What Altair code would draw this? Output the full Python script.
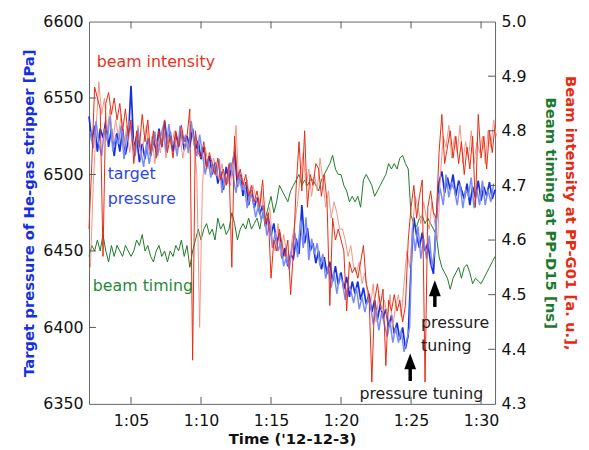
import altair as alt
import pandas as pd

# ---- data (minutes after 1:00, 0.2 min sampling) ----
minutes = [round(2.0 + 0.2 * i, 1) for i in range(146)]
minutes_mid = [round(2.1 + 0.2 * i, 1) for i in range(145)]

blue_pa = [
    6538, 6522, 6532, 6515, 6530,
    6524, 6535, 6518, 6530, 6512,
    6527, 6515, 6530, 6513, 6522,
    6558, 6516, 6525, 6508, 6520,
    6510, 6524, 6512, 6522, 6516,
    6530, 6518, 6535, 6520, 6528,
    6515, 6527, 6518, 6528, 6516,
    6525, 6518, 6530, 6516, 6522,
    6510, 6518, 6505, 6512, 6500,
    6508, 6494, 6502, 6490, 6505,
    6496, 6505, 6515, 6492, 6500,
    6486, 6495, 6480, 6490, 6478,
    6485, 6474, 6480, 6466, 6472,
    6460, 6468, 6455, 6462, 6445,
    6452, 6440, 6448, 6445, 6458,
    6448, 6480, 6455, 6465, 6450,
    6455, 6442, 6450, 6438, 6446,
    6435, 6443, 6430, 6440, 6428,
    6436, 6425, 6433, 6420, 6430,
    6422, 6430, 6418, 6426, 6415,
    6422, 6410, 6418, 6405, 6415,
    6406, 6412, 6400, 6408, 6396,
    6403, 6392, 6400, 6386, 6395,
    6440, 6472, 6460, 6452, 6462,
    6450, 6455, 6442, 6435, 6470,
    6495, 6502, 6488, 6498, 6490,
    6500, 6486, 6496, 6490, 6484,
    6494, 6480, 6492, 6485, 6496,
    6483, 6492, 6486, 6495, 6484,
    6490,
]

# lighter companion trace of the pressure (read between the dark samples)
blue_pa_light = [
    6528, 6517, 6535, 6520, 6512,
    6530, 6522, 6538, 6515, 6525,
    6520, 6532, 6510, 6526, 6535,
    6522, 6512, 6530, 6515, 6505,
    6520, 6507, 6518, 6528, 6512,
    6524, 6532, 6515, 6533, 6520,
    6522, 6512, 6532, 6520, 6526,
    6514, 6535, 6520, 6512, 6526,
    6514, 6500, 6510, 6498, 6506,
    6499, 6510, 6488, 6500, 6494,
    6508, 6498, 6488, 6502, 6490,
    6492, 6478, 6488, 6484, 6472,
    6480, 6470, 6476, 6460, 6468,
    6452, 6462, 6450, 6456, 6440,
    6446, 6438, 6452, 6462, 6446,
    6470, 6452, 6472, 6444, 6458,
    6448, 6455, 6440, 6448, 6432,
    6440, 6426, 6436, 6422, 6434,
    6430, 6418, 6428, 6424, 6416,
    6426, 6412, 6420, 6410, 6418,
    6415, 6402, 6412, 6398, 6410,
    6402, 6394, 6404, 6390, 6400,
    6390, 6398, 6384, 6392, 6400,
    6465, 6450, 6466, 6445, 6458,
    6445, 6460, 6440, 6450, 6485,
    6490, 6480, 6500, 6485, 6494,
    6490, 6480, 6494, 6478, 6490,
    6486, 6498, 6478, 6490, 6480,
    6496, 6480, 6490, 6482, 6494,
]

red_dark = [
    4.62, 4.74, 4.88, 4.86, 4.84,
    4.57, 4.85, 4.87, 4.83, 4.86,
    4.82, 4.85, 4.80, 4.84, 4.79,
    4.82, 4.74, 4.80, 4.77, 4.83,
    4.78, 4.82, 4.76, 4.80, 4.75,
    4.80, 4.77, 4.82, 4.76, 4.79,
    4.75, 4.80, 4.77, 4.81, 4.78,
    4.79, 4.84, 4.38, 4.80, 4.76,
    4.75, 4.78, 4.73, 4.76, 4.74,
    4.72, 4.75, 4.71, 4.73, 4.70,
    4.74, 4.55, 4.79, 4.71, 4.73,
    4.70, 4.72, 4.68, 4.70, 4.67,
    4.69, 4.66, 4.71, 4.63, 4.65,
    4.53, 4.60, 4.58, 4.62, 4.59,
    4.57, 4.60, 4.50, 4.58, 4.70,
    4.78, 4.69, 4.80, 4.66, 4.72,
    4.70, 4.74, 4.73, 4.68, 4.72,
    4.67, 4.48, 4.64, 4.60, 4.62,
    4.60, 4.58, 4.47, 4.56, 4.54,
    4.55, 4.53, 4.56, 4.59, 4.52,
    4.50, 4.34, 4.49, 4.52, 4.48,
    4.51, 4.37, 4.49, 4.47, 4.50,
    4.47, 4.49, 4.45, 4.48, 4.60,
    4.66, 4.70, 4.64, 4.68, 4.71,
    4.34, 4.66, 4.69, 4.65, 4.64,
    4.76, 4.83, 4.74, 4.77, 4.80,
    4.75, 4.79, 4.74, 4.78, 4.72,
    4.77, 4.73, 4.79, 4.66, 4.83,
    4.75, 4.79, 4.73, 4.80, 4.76,
    4.81,
]

red_light = [
    4.55, 4.70, 4.80, 4.89, 4.83,
    4.86, 4.80, 4.84, 4.78, 4.82,
    4.79, 4.83, 4.77, 4.81, 4.76,
    4.79, 4.76, 4.81, 4.75, 4.78,
    4.81, 4.76, 4.79, 4.74, 4.78,
    4.76, 4.80, 4.75, 4.79, 4.77,
    4.80, 4.76, 4.79, 4.75, 4.78,
    4.76, 4.81, 4.78, 4.72, 4.44,
    4.70, 4.77, 4.74, 4.72, 4.75,
    4.73, 4.71, 4.74, 4.70, 4.72,
    4.70, 4.75, 4.81, 4.70, 4.72,
    4.69, 4.71, 4.67, 4.70, 4.68,
    4.66, 4.69, 4.64, 4.62, 4.66,
    4.60, 4.58, 4.63, 4.57, 4.61,
    4.58, 4.55, 4.60, 4.63, 4.67,
    4.72, 4.76, 4.70, 4.73, 4.68,
    4.72, 4.69, 4.75, 4.71, 4.66,
    4.69, 4.64, 4.67, 4.65, 4.62,
    4.62, 4.60, 4.57, 4.59, 4.55,
    4.54, 4.56, 4.52, 4.54, 4.50,
    4.48, 4.52, 4.45, 4.50, 4.47,
    4.49, 4.46, 4.50, 4.44, 4.48,
    4.50, 4.46, 4.52, 4.58, 4.55,
    4.62, 4.68, 4.66, 4.63, 4.67,
    4.64, 4.62, 4.67, 4.63, 4.60,
    4.72, 4.79, 4.77, 4.81, 4.75,
    4.79, 4.76, 4.81, 4.74, 4.78,
    4.75, 4.80, 4.74, 4.78, 4.76,
    4.79, 4.74, 4.80, 4.77, 4.82,
    4.79,
]

green_ns = [
    4.57, 4.59, 4.58, 4.60, 4.58,
    4.61, 4.58, 4.56, 4.59, 4.57,
    4.59, 4.58, 4.57, 4.59, 4.58,
    4.57, 4.58, 4.60, 4.59, 4.61,
    4.58, 4.59, 4.57, 4.56, 4.58,
    4.59, 4.57, 4.58, 4.56, 4.58,
    4.57, 4.59, 4.58, 4.60, 4.57,
    4.59, 4.55, 4.58, 4.60, 4.62,
    4.60, 4.62, 4.63, 4.61, 4.62,
    4.60, 4.64, 4.62, 4.63, 4.61,
    4.62, 4.65, 4.63, 4.60, 4.62,
    4.63, 4.62, 4.64, 4.62, 4.63,
    4.64, 4.62, 4.65, 4.64, 4.66,
    4.68, 4.65, 4.67, 4.70, 4.69,
    4.68, 4.67, 4.69, 4.70, 4.71,
    4.72, 4.70, 4.71, 4.70, 4.71,
    4.71, 4.70, 4.69, 4.71, 4.72,
    4.73, 4.74, 4.755, 4.73, 4.72,
    4.72, 4.70, 4.69, 4.67, 4.68,
    4.67, 4.68, 4.66, 4.71, 4.72,
    4.71, 4.70, 4.68, 4.69, 4.70,
    4.71, 4.72, 4.74, 4.73, 4.74,
    4.73, 4.75, 4.755, 4.74, 4.73,
    4.645, 4.63, 4.625, 4.64, 4.645,
    4.63, 4.64, 4.63, 4.62, 4.61,
    4.57, 4.55, 4.54, 4.53, 4.51,
    4.53, 4.54, 4.55, 4.53, 4.55,
    4.555, 4.54, 4.52, 4.53, 4.525,
    4.52, 4.53, 4.54, 4.55, 4.56,
    4.57,
]

x_tick_values = [5, 10, 15, 20, 25, 30]
pa_tick_values = [6350, 6400, 6450, 6500, 6550, 6600]
pa_inner_ticks = [6400, 6450, 6500, 6550]
ns_tick_values = [4.3, 4.4, 4.5, 4.6, 4.7, 4.8, 4.9, 5.0]
ns_inner_ticks = [4.4, 4.5, 4.6, 4.7, 4.8, 4.9]

# annotations (time in minutes, value in Pa)
note_text = ["beam intensity", "target", "pressure", "beam timing",
             "pressure tuning", "pressure", "tuning"]
note_t = [2.55, 3.33, 3.33, 2.27, 21.31, 25.71, 25.71]
note_pa = [6573.7, 6500.0, 6483.8, 6426.9, 6356.7, 6403.0, 6387.7]
note_color = ["#e8331c", "#2b46e6", "#2b46e6", "#1f8a3a", "#222222", "#222222", "#222222"]

arrow_t = [24.94, 26.70]
arrow_tail_pa = [6365.0, 6413.4]
arrow_base_pa = [6374.0, 6422.0]
arrow_head_pa = [6377.8, 6425.6]

# ---- styling ----
W, H = 411, 387
TICK_LEN = 7
FONT = "DejaVu Sans"
BLUE = "#1530e0"
BLUE_LIGHT = "#7a8cf2"
RED = "#e8290f"
RED_LIGHT = "#f39384"
GREEN = "#1c7a2c"
TICK = "#555555"

df = pd.DataFrame({"t": minutes, "blue": blue_pa, "red": red_dark, "green": green_ns})
df_mid = pd.DataFrame({"t": minutes_mid, "blue2": blue_pa_light})
df_rl = pd.DataFrame({"t": [round(v + 0.1, 1) for v in minutes], "red2": red_light})
notes = pd.DataFrame({"t": note_t, "p": note_pa, "label": note_text, "c": note_color})
arrows = pd.DataFrame({"t": arrow_t, "tail": arrow_tail_pa, "base": arrow_base_pa,
                       "head": arrow_head_pa})
xt = pd.DataFrame({"v": x_tick_values})
pt = pd.DataFrame({"v": pa_inner_ticks})
nt = pd.DataFrame({"v": ns_inner_ticks})

xs = alt.Scale(domain=[2, 31], nice=False, zero=False)
pa_scale = alt.Scale(domain=[6350, 6600], nice=False, zero=False)
ns_scale = alt.Scale(domain=[4.3, 5.0], nice=False, zero=False)

label_expr = "'1:' + (datum.value < 10 ? '0' + datum.value : datum.value)"

green = alt.Chart(df).mark_line(color=GREEN, strokeWidth=1).encode(
    x=alt.X("t:Q", scale=xs, axis=None),
    y=alt.Y("green:Q", scale=ns_scale, axis=alt.Axis(
        orient="right", labels=False, ticks=False, domain=False, grid=False,
        title="Beam timing at PP-D15 [ns]", titleColor=GREEN, titlePadding=48)),
)

red_l = alt.Chart(df_rl).mark_line(color=RED_LIGHT, strokeWidth=1).encode(
    x=alt.X("t:Q", scale=xs, axis=None),
    y=alt.Y("red2:Q", scale=ns_scale, axis=None),
)

blue_l = alt.Chart(df_mid).mark_line(color=BLUE_LIGHT, strokeWidth=1.5).encode(
    x=alt.X("t:Q", scale=xs, axis=None),
    y=alt.Y("blue2:Q", scale=pa_scale, axis=None),
)

blue = alt.Chart(df).mark_line(color=BLUE, strokeWidth=1.7).encode(
    x=alt.X("t:Q", scale=xs, axis=alt.Axis(
        orient="bottom", values=x_tick_values, labelExpr=label_expr,
        ticks=False, domain=False, grid=False, labelPadding=9,
        title="Time ('12-12-3)", titlePadding=3)),
    y=alt.Y("blue:Q", scale=pa_scale, axis=alt.Axis(
        orient="left", values=pa_tick_values, format="d", ticks=False,
        domain=False, grid=False, labelPadding=6,
        title="Target pressure of He-gas stripper [Pa]", titleColor=BLUE,
        titlePadding=6)),
)

red_d = alt.Chart(df).mark_line(color=RED, strokeWidth=1).encode(
    x=alt.X("t:Q", scale=xs, axis=None),
    y=alt.Y("red:Q", scale=ns_scale, axis=alt.Axis(
        orient="right", values=ns_tick_values, format=".1f", ticks=False,
        domain=False, grid=False, labelPadding=6,
        title="Beam intensity at PP-G01 [a. u.],", titleColor=RED,
        titlePadding=37)),
)

text = alt.Chart(notes).mark_text(
    align="left", baseline="middle", font=FONT, fontSize=16
).encode(
    x=alt.X("t:Q", scale=xs, axis=None),
    y=alt.Y("p:Q", scale=pa_scale, axis=None),
    text="label:N",
    color=alt.Color("c:N", scale=None),
)

shaft = alt.Chart(arrows).mark_rule(color="black", strokeWidth=3.5).encode(
    x=alt.X("t:Q", scale=xs, axis=None),
    y=alt.Y("tail:Q", scale=pa_scale, axis=None),
    y2="base:Q",
)

head = alt.Chart(arrows).mark_point(
    shape="M0,-1L0.75,1L-0.75,1Z", filled=True, color="black", opacity=1,
    size=256, strokeWidth=0
).encode(
    x=alt.X("t:Q", scale=xs, axis=None),
    y=alt.Y("head:Q", scale=pa_scale, axis=None),
)

# inward tick marks on all four sides
tick_bottom = alt.Chart(xt).mark_rule(color=TICK, strokeWidth=1).encode(
    x=alt.X("v:Q", scale=xs, axis=None),
    y=alt.value(H), y2=alt.value(H - TICK_LEN),
)
tick_top = alt.Chart(xt).mark_rule(color=TICK, strokeWidth=1).encode(
    x=alt.X("v:Q", scale=xs, axis=None),
    y=alt.value(0), y2=alt.value(TICK_LEN),
)
tick_left = alt.Chart(pt).mark_rule(color=TICK, strokeWidth=1).encode(
    y=alt.Y("v:Q", scale=pa_scale, axis=None),
    x=alt.value(0), x2=alt.value(TICK_LEN),
)
tick_right = alt.Chart(nt).mark_rule(color=TICK, strokeWidth=1).encode(
    y=alt.Y("v:Q", scale=ns_scale, axis=None),
    x=alt.value(W - TICK_LEN), x2=alt.value(W),
)

chart = alt.layer(
    blue, green, red_l, blue_l, red_d, text, shaft, head,
    tick_bottom, tick_top, tick_left, tick_right,
).resolve_scale(
    y="independent"
).resolve_axis(
    x="independent", y="independent"
).properties(
    width=W, height=H,
    padding={"left": 14, "top": 3, "right": 3, "bottom": 5},
).configure_view(
    stroke="#666666", strokeWidth=1
).configure_axis(
    labelFont=FONT, labelFontSize=16, labelColor="#111111",
    titleFont=FONT, titleFontSize=15, titleFontWeight="bold",
    titleColor="#111111",
)

chart.save("out.html", embed_options={"renderer": "svg", "actions": False})
